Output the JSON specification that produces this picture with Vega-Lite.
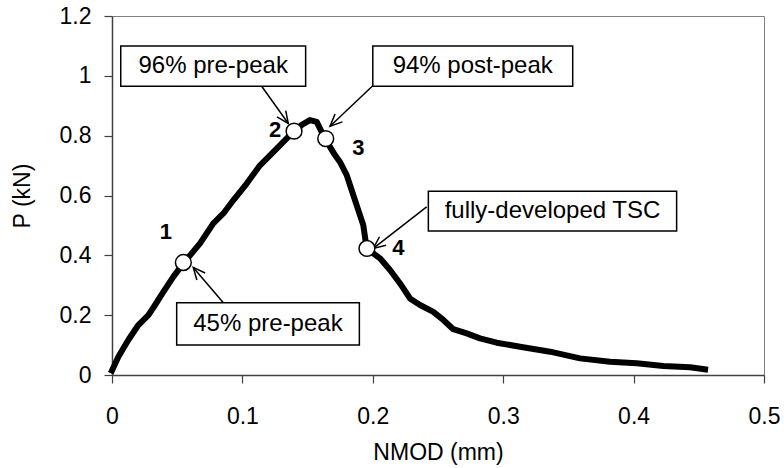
{
  "$schema": "https://vega.github.io/schema/vega-lite/v6.json",
  "autosize": {"type": "none"},
  "padding": {"left": 112, "top": 16, "right": 20, "bottom": 93},
  "width": 652,
  "height": 359,
  "background": "white",
  "config": {
    "font": "Liberation Sans",
    "view": {"stroke": "#808080", "strokeWidth": 1},
    "axis": {
      "grid": false,
      "domainColor": "#404040",
      "domainWidth": 1.5,
      "tickColor": "#404040",
      "tickWidth": 1.2,
      "tickSize": 8,
      "labelColor": "black",
      "labelFont": "Liberation Sans",
      "labelFontSize": 23,
      "titleColor": "black",
      "titleFont": "Liberation Sans",
      "titleFontSize": 23,
      "titleFontWeight": "normal"
    }
  },
  "datasets": {
    "curve": [
      {"nmod": 0, "p": 0.015}, {"nmod": 0.0049, "p": 0.061}, {"nmod": 0.0125, "p": 0.117},
      {"nmod": 0.0202, "p": 0.167}, {"nmod": 0.0279, "p": 0.2}, {"nmod": 0.033, "p": 0.234},
      {"nmod": 0.0394, "p": 0.278}, {"nmod": 0.047, "p": 0.328}, {"nmod": 0.0547, "p": 0.373},
      {"nmod": 0.0675, "p": 0.44}, {"nmod": 0.0777, "p": 0.507}, {"nmod": 0.0854, "p": 0.54},
      {"nmod": 0.093, "p": 0.584}, {"nmod": 0.1033, "p": 0.64}, {"nmod": 0.1135, "p": 0.701},
      {"nmod": 0.1225, "p": 0.74}, {"nmod": 0.1314, "p": 0.779}, {"nmod": 0.1396, "p": 0.815},
      {"nmod": 0.1455, "p": 0.836}, {"nmod": 0.1518, "p": 0.852}, {"nmod": 0.157, "p": 0.846},
      {"nmod": 0.1633, "p": 0.79}, {"nmod": 0.171, "p": 0.735}, {"nmod": 0.1748, "p": 0.712},
      {"nmod": 0.18, "p": 0.668}, {"nmod": 0.1825, "p": 0.635}, {"nmod": 0.1876, "p": 0.568},
      {"nmod": 0.1927, "p": 0.501}, {"nmod": 0.1953, "p": 0.423}, {"nmod": 0.2055, "p": 0.39},
      {"nmod": 0.2132, "p": 0.351}, {"nmod": 0.2209, "p": 0.306}, {"nmod": 0.2285, "p": 0.256},
      {"nmod": 0.2362, "p": 0.234}, {"nmod": 0.2464, "p": 0.211}, {"nmod": 0.2541, "p": 0.184},
      {"nmod": 0.2617, "p": 0.153}, {"nmod": 0.272, "p": 0.139}, {"nmod": 0.2822, "p": 0.1226},
      {"nmod": 0.295, "p": 0.108}, {"nmod": 0.3129, "p": 0.0945}, {"nmod": 0.3359, "p": 0.078},
      {"nmod": 0.3589, "p": 0.0556}, {"nmod": 0.3819, "p": 0.0445}, {"nmod": 0.4024, "p": 0.039},
      {"nmod": 0.4228, "p": 0.03}, {"nmod": 0.4433, "p": 0.0257}, {"nmod": 0.4548, "p": 0.019}
    ],
    "markers": [
      {"id": "1", "nmod": 0.0547, "p": 0.376, "lx": 0.0414, "ly": 0.478},
      {"id": "2", "nmod": 0.1396, "p": 0.815, "lx": 0.125, "ly": 0.818},
      {"id": "3", "nmod": 0.1639, "p": 0.79, "lx": 0.189, "ly": 0.76},
      {"id": "4", "nmod": 0.1955, "p": 0.423, "lx": 0.2197, "ly": 0.424}
    ],
    "notes": [
      {"label": "96% pre-peak", "bx1": 0.0067, "bx2": 0.1485, "by1": 0.965, "by2": 1.1, "tx": 0.0776, "ty": 1.0326,
       "ax": 0.1148, "ay": 0.965, "ax2": 0.1352, "ay2": 0.8407, "angle": 144.5},
      {"label": "94% post-peak", "bx1": 0.2, "bx2": 0.3533, "by1": 0.965, "by2": 1.1, "tx": 0.2766, "ty": 1.0326,
       "ax": 0.2004, "ay": 0.9686, "ax2": 0.1672, "ay2": 0.8317, "angle": 226.6},
      {"label": "fully-developed TSC", "bx1": 0.2426, "bx2": 0.433, "by1": 0.481, "by2": 0.6146, "tx": 0.3378, "ty": 0.5478,
       "ax": 0.2413, "ay": 0.5621, "ax2": 0.2004, "ay2": 0.4232, "angle": 232.1},
      {"label": "45% pre-peak", "bx1": 0.0496, "bx2": 0.1897, "by1": 0.1002, "by2": 0.2415, "tx": 0.1196, "ty": 0.1708,
       "ax": 0.0854, "ay": 0.2415, "ax2": 0.0623, "ay2": 0.3597, "angle": 319.7}
    ]
  },
  "layer": [
    {
      "data": {"name": "curve"},
      "mark": {"type": "line", "color": "black", "strokeWidth": 6, "strokeJoin": "round", "strokeCap": "square"},
      "encoding": {
        "x": {"field": "nmod", "type": "quantitative", "scale": {"domain": [0, 0.5], "nice": false, "zero": false},
              "axis": {"values": [0, 0.1, 0.2, 0.3, 0.4, 0.5], "format": "~g", "labelPadding": 22, "labelFlush": false,
                       "title": "NMOD (mm)", "titleX": 326, "titleY": 77, "titleBaseline": "middle", "titleAnchor": null}},
        "y": {"field": "p", "type": "quantitative", "scale": {"domain": [0, 1.2], "nice": false},
              "axis": {"values": [0, 0.2, 0.4, 0.6, 0.8, 1, 1.2], "format": "~g", "labelPadding": 13, "labelFlush": false,
                       "title": "P (kN)", "titleX": -90, "titleY": 179.5, "titleAngle": -90, "titleBaseline": "middle", "titleAlign": "center"}}
      }
    },
    {
      "data": {"name": "notes"},
      "mark": {"type": "rule", "color": "black", "strokeWidth": 1.5},
      "encoding": {
        "x": {"field": "ax", "type": "quantitative"},
        "y": {"field": "ay", "type": "quantitative"},
        "x2": {"field": "ax2"},
        "y2": {"field": "ay2"}
      }
    },
    {
      "data": {"name": "notes"},
      "mark": {"type": "point", "shape": "M-0.45,1L0,0L0.45,1", "filled": false, "stroke": "black", "strokeWidth": 1.5, "size": 576, "opacity": 1},
      "encoding": {
        "x": {"field": "ax2", "type": "quantitative"},
        "y": {"field": "ay2", "type": "quantitative"},
        "angle": {"field": "angle", "type": "quantitative", "scale": null}
      }
    },
    {
      "data": {"name": "notes"},
      "mark": {"type": "rect", "fill": "white", "stroke": "black", "strokeWidth": 1.5},
      "encoding": {
        "x": {"field": "bx1", "type": "quantitative"},
        "x2": {"field": "bx2"},
        "y": {"field": "by1", "type": "quantitative"},
        "y2": {"field": "by2"}
      }
    },
    {
      "data": {"name": "notes"},
      "mark": {"type": "text", "font": "Liberation Sans", "fontSize": 24, "color": "black", "align": "center", "baseline": "middle"},
      "encoding": {
        "x": {"field": "tx", "type": "quantitative"},
        "y": {"field": "ty", "type": "quantitative"},
        "text": {"field": "label"}
      }
    },
    {
      "data": {"name": "markers"},
      "mark": {"type": "point", "shape": "circle", "filled": true, "fill": "white", "stroke": "black", "strokeWidth": 1.5, "size": 250, "opacity": 1},
      "encoding": {
        "x": {"field": "nmod", "type": "quantitative"},
        "y": {"field": "p", "type": "quantitative"}
      }
    },
    {
      "data": {"name": "markers"},
      "mark": {"type": "text", "font": "Liberation Sans", "fontSize": 22, "fontWeight": "bold", "color": "black", "align": "center", "baseline": "middle"},
      "encoding": {
        "x": {"field": "lx", "type": "quantitative"},
        "y": {"field": "ly", "type": "quantitative"},
        "text": {"field": "id"}
      }
    }
  ]
}
